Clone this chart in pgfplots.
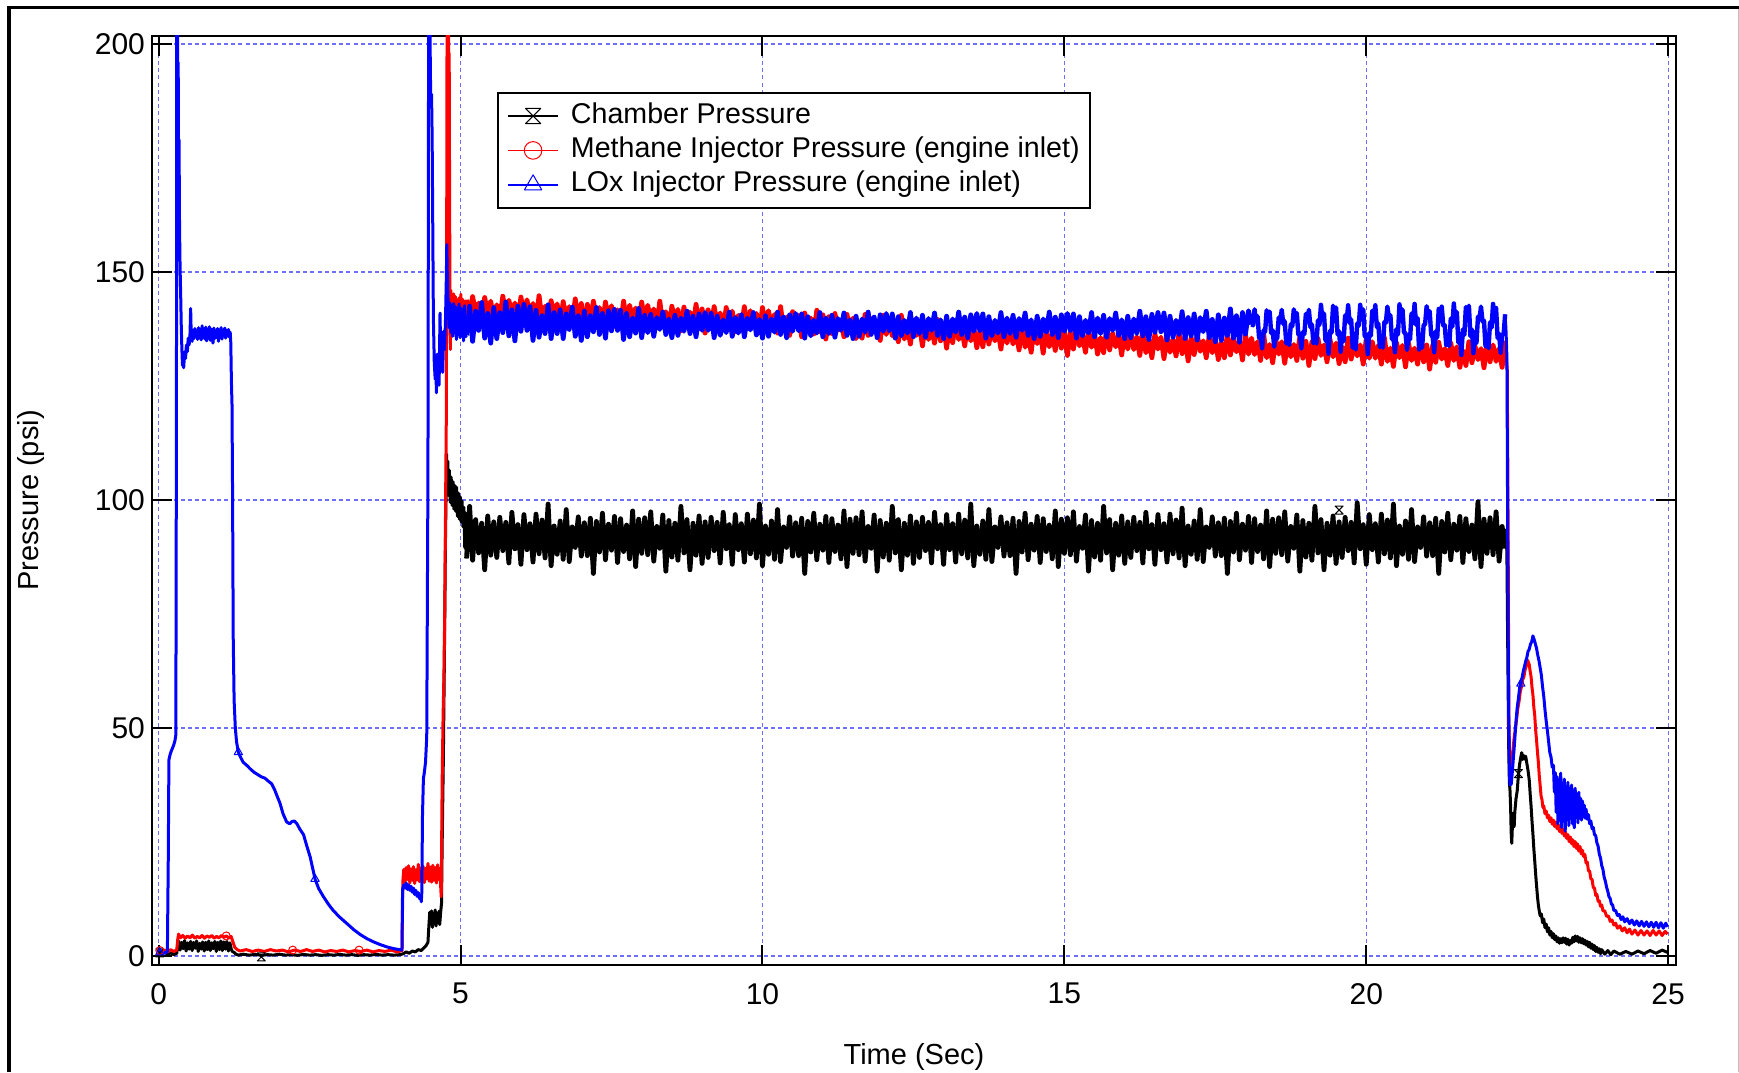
\documentclass[border=0pt]{standalone}
\usepackage{fontspec}
\setmainfont{Liberation Sans}
\usepackage{pgfplots}
\pgfplotsset{compat=1.18}
\usepackage{pgfplotstable}

\pgfdeclareplotmark{hourglass}{%
  \pgfpathmoveto{\pgfqpoint{-\pgfplotmarksize}{\pgfplotmarksize}}%
  \pgfpathlineto{\pgfqpoint{\pgfplotmarksize}{\pgfplotmarksize}}%
  \pgfpathlineto{\pgfqpoint{-\pgfplotmarksize}{-\pgfplotmarksize}}%
  \pgfpathlineto{\pgfqpoint{\pgfplotmarksize}{-\pgfplotmarksize}}%
  \pgfpathclose
  \pgfusepathqstroke}

\definecolor{gridblue}{RGB}{110,110,255}
\definecolor{pblue}{RGB}{0,0,255}
\definecolor{pred}{RGB}{255,0,0}

% steady-state part: time, chamber, methane, LOx
\pgfplotstableread{
t cp mp lp
5.10 87.2 143.9 136.1
5.15 98.6 140.2 142.5
5.20 86.8 144.6 134.8
5.25 95.7 140.9 141.4
5.30 88.4 143.2 137.2
5.35 94.9 139.5 143.3
5.40 84.7 144.4 135.5
5.45 96.5 140.6 140.9
5.50 87.9 143.6 134.4
5.55 95.2 139.1 142.2
5.60 87.4 142.8 135.4
5.65 96.2 139.5 141.1
5.70 88.9 144.7 136.7
5.75 95.1 140.1 143.4
5.80 86.2 143.8 136.0
5.85 97.3 140.8 141.7
5.90 89.3 143.2 134.9
5.95 94.6 139.0 142.5
6.00 85.9 144.5 137.0
6.05 96.8 140.3 142.9
6.10 89.1 143.9 137.2
6.15 94.8 140.3 142.4
6.20 86.4 143.1 135.0
6.25 96.9 139.0 141.6
6.30 88.2 144.8 135.7
6.35 95.6 139.6 140.4
6.40 87.3 142.5 136.5
6.45 99.1 138.5 142.8
6.50 85.6 143.7 135.4
6.55 94.3 140.4 141.1
6.60 88.1 143.0 136.5
6.65 95.4 138.3 141.7
6.70 87.0 143.5 135.4
6.75 97.9 139.7 140.8
6.80 86.5 142.4 137.4
6.85 94.1 138.9 142.3
6.90 89.6 144.1 135.9
6.95 96.3 139.4 140.4
7.00 87.7 143.1 135.0
7.05 95.0 137.8 141.4
7.10 87.8 142.9 135.8
7.15 96.0 139.2 140.4
7.20 83.9 143.6 136.9
7.25 95.3 139.9 142.2
7.30 88.6 142.2 136.3
7.35 97.1 138.5 140.9
7.40 86.9 143.4 135.5
7.45 94.7 139.6 141.5
7.50 89.0 142.6 137.1
7.55 96.4 138.1 141.8
7.60 86.3 141.7 137.2
7.65 95.9 138.4 141.6
7.70 88.7 143.6 135.2
7.75 94.5 139.0 140.9
7.80 87.1 142.7 135.8
7.85 97.6 139.7 139.9
7.90 85.4 142.1 136.6
7.95 95.8 137.9 142.0
8.00 88.3 143.4 135.6
8.05 96.1 139.2 140.5
8.10 88.0 142.7 136.7
8.15 97.4 139.1 140.7
8.20 86.6 141.9 135.9
8.25 94.2 137.8 140.0
8.30 89.4 143.6 137.4
8.35 96.7 138.4 141.2
8.40 84.4 141.3 136.3
8.45 95.5 137.3 139.7
8.50 87.5 142.5 135.6
8.55 94.9 139.2 140.5
8.60 86.8 141.8 136.1
8.65 98.6 137.1 139.9
8.70 88.4 142.3 137.0
8.75 95.7 138.5 141.4
8.80 84.7 141.2 136.5
8.85 94.9 137.7 140.3
8.90 87.9 142.9 135.8
8.95 96.5 138.2 140.8
9.00 86.1 141.9 137.2
9.05 95.2 136.6 141.1
9.10 87.4 141.7 137.2
9.15 96.2 138.0 140.9
9.20 88.9 142.4 135.6
9.25 95.1 138.7 140.3
9.30 86.2 141.0 136.1
9.35 97.3 137.3 139.5
9.40 89.3 142.2 136.7
9.45 94.6 138.4 141.2
9.50 85.9 141.4 135.9
9.55 96.8 136.9 140.0
9.60 89.1 140.5 136.6
9.65 94.8 137.2 140.6
9.70 86.4 142.4 135.8
9.75 96.9 137.8 139.9
9.80 88.2 141.5 137.3
9.85 95.6 138.5 141.1
9.90 87.3 140.9 136.2
9.95 99.1 136.7 139.6
10.00 85.6 142.2 135.5
10.05 94.3 138.0 140.4
10.10 88.1 141.5 135.9
10.15 95.4 137.9 139.7
10.20 87.0 140.7 136.8
10.25 97.9 136.6 141.2
10.30 86.5 142.4 136.3
10.35 94.1 137.2 140.1
10.40 89.6 140.1 135.6
10.45 96.3 136.1 140.6
10.50 87.7 141.3 137.0
10.55 95.0 138.0 140.9
10.60 87.8 140.5 137.1
10.65 96.0 135.8 140.8
10.70 83.9 141.0 135.5
10.75 95.3 137.2 140.2
10.80 88.6 139.9 136.0
10.85 97.1 136.4 139.4
10.90 86.9 141.6 136.6
10.95 94.7 136.9 141.1
11.00 89.0 140.6 135.8
11.05 96.4 135.3 139.9
11.10 86.3 140.2 136.5
11.15 95.9 136.5 140.5
11.20 88.7 140.9 135.7
11.25 94.5 137.2 139.8
11.30 87.1 139.5 137.2
11.35 97.6 135.8 141.0
11.40 85.4 140.7 136.1
11.45 95.8 136.9 139.5
11.50 88.3 139.9 135.4
11.55 96.1 135.4 140.3
11.60 88.0 138.8 135.9
11.65 97.4 135.5 139.7
11.70 86.6 140.7 136.8
11.75 94.2 136.1 141.2
11.80 89.4 139.8 136.3
11.85 96.7 136.8 140.1
11.90 84.4 139.2 135.6
11.95 95.5 135.0 140.6
12.00 87.5 140.5 137.0
12.05 94.9 136.3 140.9
12.10 86.8 139.6 137.1
12.15 98.6 136.0 140.8
12.20 88.4 138.8 135.5
12.25 95.7 134.7 140.2
12.30 84.7 140.5 136.0
12.35 94.9 135.3 139.4
12.40 87.9 138.2 136.6
12.45 96.5 134.2 141.1
12.50 86.1 139.4 135.8
12.55 95.2 136.1 139.9
12.60 87.4 138.5 136.5
12.65 96.2 133.8 140.5
12.70 88.9 139.0 135.7
12.75 95.1 135.2 139.8
12.80 86.2 137.9 137.2
12.85 97.3 134.4 141.0
12.90 89.3 139.6 136.1
12.95 94.6 134.9 139.5
13.00 85.9 138.6 135.4
13.05 96.8 133.3 140.3
13.10 89.1 138.2 135.9
13.15 94.8 134.5 139.7
13.20 86.4 138.9 136.8
13.25 96.9 135.2 141.2
13.30 88.2 137.5 136.3
13.35 95.6 133.8 140.1
13.40 87.3 138.7 135.6
13.45 99.1 134.9 140.6
13.50 85.6 137.9 137.0
13.55 94.3 133.4 140.9
13.60 88.1 136.9 137.1
13.65 95.4 133.6 140.8
13.70 87.0 138.8 135.5
13.75 97.9 134.2 140.2
13.80 86.5 137.9 136.0
13.85 94.1 134.9 139.4
13.90 89.6 137.3 136.6
13.95 96.3 133.1 141.1
14.00 87.7 138.6 135.8
14.05 95.0 134.4 139.9
14.10 87.8 137.8 136.5
14.15 96.0 134.2 140.5
14.20 83.9 137.0 135.7
14.25 95.3 132.9 139.8
14.30 88.6 138.7 137.2
14.35 97.1 133.5 141.0
14.40 86.9 136.4 136.1
14.45 94.7 132.4 139.5
14.50 89.0 137.6 135.4
14.55 96.4 134.3 140.3
14.60 86.3 136.9 135.9
14.65 95.9 132.2 139.7
14.70 88.7 137.4 136.8
14.75 94.5 133.6 141.2
14.80 87.1 136.3 136.3
14.85 97.6 132.8 140.1
14.90 85.4 138.0 135.6
14.95 95.8 133.3 140.6
15.00 88.3 137.0 137.0
15.05 96.1 131.7 140.9
15.10 88.0 136.8 137.1
15.15 97.4 133.1 140.8
15.20 86.6 137.5 135.5
15.25 94.2 133.8 140.2
15.30 89.4 136.1 136.0
15.35 96.7 132.4 139.4
15.40 84.4 137.3 136.6
15.45 95.5 133.5 141.1
15.50 87.5 136.5 135.8
15.55 94.9 132.0 139.9
15.60 86.8 135.6 136.5
15.65 98.6 132.3 140.5
15.70 88.4 137.5 135.7
15.75 95.7 132.9 139.8
15.80 84.7 136.6 137.2
15.85 94.9 133.6 141.0
15.90 87.9 136.0 136.1
15.95 96.5 131.8 139.5
16.00 86.1 137.3 135.4
16.05 95.2 133.1 140.3
16.10 87.4 136.6 135.6
16.15 96.2 133.0 139.7
16.20 88.9 135.8 136.5
16.25 95.1 131.7 141.4
16.30 86.2 137.5 136.0
16.35 97.3 132.3 140.2
16.40 89.3 135.2 135.2
16.45 94.6 131.2 140.7
16.50 85.9 136.4 136.8
16.55 96.8 133.1 141.1
16.60 89.1 135.7 136.9
16.65 94.8 131.0 141.0
16.70 86.4 136.2 135.1
16.75 96.9 132.4 140.3
16.80 88.2 135.1 135.7
16.85 95.6 131.6 139.4
16.90 87.3 136.8 136.3
16.95 98.2 132.1 141.3
17.00 85.6 135.8 135.4
17.05 94.3 130.5 140.0
17.10 88.1 135.6 136.0
17.15 95.4 131.9 140.8
17.20 87.0 136.3 135.1
17.25 97.9 132.6 140.0
17.30 86.5 134.9 136.9
17.35 94.1 131.2 141.4
17.40 89.6 136.1 135.6
17.45 96.3 132.3 139.6
17.50 87.7 135.3 134.7
17.55 95.0 130.8 140.6
17.60 87.8 134.5 135.0
17.65 96.0 131.2 139.9
17.70 83.9 136.4 136.1
17.75 95.3 131.8 141.9
17.80 88.6 135.5 135.5
17.85 97.1 132.5 140.4
17.90 86.9 134.9 134.6
17.95 94.7 130.7 141.1
18.00 89.0 136.2 136.4
18.05 96.4 132.0 141.5
18.10 86.3 135.5 138.5
18.15 95.9 131.9 141.8
18.20 88.7 134.7 138.4
18.25 94.5 130.6 134.6
18.30 87.1 136.4 136.8
18.35 97.6 131.2 141.0
18.40 85.4 134.1 140.1
18.45 95.8 130.1 135.7
18.50 88.3 135.3 135.2
18.55 96.1 132.0 139.5
18.60 88.0 134.7 142.5
18.65 97.4 130.0 137.4
18.70 86.6 135.2 134.2
18.75 94.2 131.4 136.2
18.80 89.4 134.1 142.1
18.85 96.7 130.6 139.6
18.90 84.4 135.8 135.3
18.95 95.5 131.1 134.4
19.00 87.5 134.8 140.6
19.05 94.9 129.5 141.2
19.10 86.8 134.7 135.9
19.15 98.6 131.0 133.0
19.20 88.4 135.4 138.4
19.25 95.7 131.7 142.7
19.30 84.7 134.0 138.3
19.35 94.9 130.3 133.4
19.40 87.9 135.2 136.2
19.45 96.5 131.4 141.7
19.50 86.1 134.4 140.5
19.55 95.2 129.9 134.9
19.60 87.4 133.6 134.2
19.65 96.2 130.3 139.7
19.70 88.9 135.5 142.8
19.75 95.1 130.9 137.1
19.80 86.2 134.6 133.6
19.85 99.4 131.6 135.8
19.90 89.3 134.0 142.4
19.95 94.6 129.8 139.6
20.00 85.9 135.3 134.8
20.05 96.8 131.1 133.8
20.10 89.1 134.7 140.7
20.15 94.8 131.1 141.4
20.20 86.4 133.9 135.9
20.25 96.9 129.8 133.0
20.30 88.2 135.6 138.4
20.35 95.6 130.4 142.7
20.40 87.3 133.3 138.3
20.45 99.1 129.3 133.4
20.50 85.6 134.5 136.2
20.55 94.3 131.2 141.7
20.60 88.1 133.9 140.5
20.65 95.4 129.2 134.9
20.70 87.0 134.4 134.2
20.75 97.9 130.6 139.7
20.80 86.5 133.3 142.8
20.85 94.1 129.8 137.1
20.90 89.6 135.0 133.6
20.95 96.3 130.3 135.8
21.00 87.7 134.0 142.4
21.05 95.0 128.7 139.6
21.10 87.8 133.9 134.8
21.15 96.0 130.2 133.8
21.20 83.9 134.6 140.7
21.25 95.3 130.9 141.4
21.30 88.6 133.2 135.9
21.35 97.1 129.5 133.0
21.40 86.9 134.4 138.4
21.45 94.7 130.6 142.7
21.50 89.0 133.6 138.3
21.55 96.4 129.1 133.4
21.60 86.3 132.8 136.2
21.65 95.9 129.5 141.7
21.70 88.7 134.7 140.5
21.75 94.5 130.1 134.9
21.80 87.1 133.8 134.2
21.85 99.6 130.8 139.7
21.90 85.4 133.2 142.8
21.95 95.8 129.0 137.1
22.00 88.3 134.5 133.6
22.05 96.1 130.3 135.8
22.10 88.0 134.0 142.4
22.15 97.4 130.4 139.6
22.20 86.6 133.2 134.8
22.25 94.2 129.1 133.8
22.30 89.4 134.9 140.7
}\steady

\begin{document}
\begin{tikzpicture}
\useasboundingbox (0pt,0pt) rectangle (869.5pt,536pt);
\begin{axis}[
  at={(76pt,53.5pt)}, anchor=south west,
  scale only axis, width=762pt, height=464.5pt,
  xmin=-0.11, xmax=25.13, ymin=-1.97, ymax=201.75,
  xtick={0,5,10,15,20,25}, ytick={0,50,100,150,200},
  grid=major,
  major grid style={gridblue, line width=0.6pt, dash pattern=on 2pt off 1.6pt},
  axis line style={line width=1pt, black},
  major tick length=10pt,
  tick style={line width=1pt, black},
  tick align=inside,
  tick label style={font=\fontsize{15}{17}\selectfont},
  xticklabel style={yshift=-5.5pt},
  label style={font=\fontsize{14.5}{17}\selectfont},
  /pgf/number format/assume math mode=true,
  xlabel={Time (Sec)}, ylabel={Pressure (psi)},
  xlabel style={at={(axis description cs:0.5,-0.099)}, anchor=center},
  ylabel style={at={(axis description cs:-0.0795,0.5)}, anchor=center},
  legend style={at={(0.2265,0.9397)}, anchor=north west, draw=black,
    line width=1pt, fill=white, inner xsep=4.5pt, inner ysep=4pt,
    row sep=2.2pt, column sep=5.5pt,
    nodes={inner sep=0.5pt, text height=10.5pt, text depth=3.5pt},
    cells={anchor=west}, font=\fontsize{14.3}{17}\selectfont},
  legend image code/.code={\draw[mark repeat=2, mark phase=2, #1] plot coordinates {(0pt,0pt) (12.5pt,0pt) (25pt,0pt)};},
  every axis plot/.append style={line width=1.5pt, line join=round},
]
\addlegendimage{black, line width=0.9pt, mark=hourglass, mark size=3.8pt, mark options={line width=0.5pt, solid}}
\addlegendentry{Chamber Pressure}
\addlegendimage{pred, line width=0.9pt, mark=o, mark size=4.4pt, mark options={line width=0.5pt, solid}}
\addlegendentry{Methane Injector Pressure (engine inlet)}
\addlegendimage{pblue, line width=0.9pt, mark=triangle, mark size=5pt, mark options={line width=0.5pt, solid}}
\addlegendentry{LOx Injector Pressure (engine inlet)}

% ---------- Chamber pressure ----------
\addplot[black, forget plot] coordinates {(0.00,0.6)(0.05,0.3)(0.10,0.9)(0.15,0.4)(0.20,0.7)(0.25,0.3)(0.30,0.6)(0.315,2.4)(0.33,3.3)(0.355,1.3)(0.38,3.0)(0.405,1.6)(0.43,3.4)(0.455,1.1)(0.48,2.9)(0.505,1.5)(0.53,3.2)(0.555,1.2)(0.58,3.0)(0.605,1.7)(0.63,3.3)(0.655,1.0)(0.68,2.8)(0.705,1.5)(0.73,3.1)(0.755,1.1)(0.78,3.0)(0.805,1.4)(0.83,3.3)(0.855,1.2)(0.88,2.9)(0.905,1.6)(0.93,3.2)(0.955,1.0)(0.98,3.0)(1.005,1.4)(1.03,3.3)(1.055,1.2)(1.08,3.1)(1.105,1.5)(1.13,3.2)(1.155,1.1)(1.18,2.9)(1.205,1.4)(1.22,1.0)(1.25,0.8)(1.28,0.4)(1.32,0.2)(1.40,0.4)(1.50,0.2)(1.60,0.35)(1.70,0.15)(1.80,0.3)(1.90,0.2)(2.00,0.4)(2.10,0.2)(2.20,0.3)(2.30,0.15)(2.40,0.35)(2.50,0.2)(2.60,0.3)(2.70,0.15)(2.80,0.3)(2.90,0.2)(3.00,0.35)(3.10,0.2)(3.20,0.3)(3.30,0.15)(3.40,0.3)(3.50,0.2)(3.60,0.35)(3.70,0.2)(3.80,0.3)(3.90,0.2)(4.00,0.3)(4.05,0.5)(4.10,0.9)(4.15,0.6)(4.20,1.1)(4.25,0.9)(4.30,1.4)(4.35,1.2)(4.40,1.9)(4.43,2.3)(4.46,3.0)(4.475,6.5)(4.49,9.6)(4.505,7.0)(4.52,9.9)(4.535,6.3)(4.55,9.3)(4.565,7.1)(4.58,10.1)(4.595,6.6)(4.61,9.0)(4.625,7.4)(4.64,9.8)(4.655,6.9)(4.67,9.5)(4.685,11.6)(4.695,24)(4.715,43)(4.73,62)(4.75,91)(4.77,110)(4.78,102)(4.79,108.5)(4.80,101)(4.815,106.5)(4.83,99.5)(4.845,105)(4.86,98.8)(4.875,104)(4.89,98)(4.905,103.2)(4.92,97.5)(4.935,102.8)(4.95,96.4)(4.965,101.5)(4.98,95.8)(4.995,100.7)(5.01,95.2)(5.025,99.8)(5.04,94.1)(5.055,98.4)(5.07,89.5)(5.085,97.2)(5.10,87.2)};
\addplot[black, line width=2.4pt, forget plot] table[x=t, y=cp] {\steady};
\addplot[black, forget plot] coordinates {(22.30,89.4)(22.32,93.5)(22.33,87.0)(22.34,72)(22.35,58)(22.36,45)(22.37,38)(22.38,36.5)(22.39,33)(22.40,27)(22.41,24.7)(22.42,28.5)(22.43,31.3)(22.44,29.5)(22.45,28.4)(22.46,31.5)(22.48,34.5)(22.50,36.2)(22.52,39.8)(22.54,42.1)(22.56,43.6)(22.575,44.6)(22.59,43.1)(22.605,44.0)(22.62,43.2)(22.64,43.8)(22.66,42.2)(22.68,40.6)(22.70,38.5)(22.715,35.5)(22.73,32.8)(22.745,29.6)(22.76,26.8)(22.775,23.6)(22.79,20.9)(22.805,18.0)(22.82,15.5)(22.835,13.1)(22.85,11.2)(22.865,9.9)(22.88,8.8)(22.90,9.2)(22.92,7.3)(22.94,8.1)(22.96,6.2)(22.98,7.0)(23.00,5.3)(23.02,6.2)(23.04,4.6)(23.06,5.4)(23.08,4.0)(23.10,4.9)(23.12,3.6)(23.14,4.4)(23.16,3.1)(23.18,4.0)(23.20,2.8)(23.22,3.8)(23.24,2.9)(23.26,4.0)(23.28,3.0)(23.30,3.9)(23.32,2.6)(23.34,3.7)(23.36,2.4)(23.38,3.4)(23.40,2.8)(23.42,4.1)(23.44,3.1)(23.46,4.4)(23.48,3.3)(23.50,4.3)(23.52,3.0)(23.54,4.0)(23.56,2.9)(23.58,3.8)(23.60,2.7)(23.62,3.5)(23.64,2.4)(23.66,3.2)(23.68,2.0)(23.70,3.0)(23.72,1.7)(23.74,2.6)(23.76,1.4)(23.78,2.3)(23.80,1.0)(23.82,1.9)(23.84,0.8)(23.86,1.6)(23.88,0.5)(23.90,1.4)(23.95,0.4)(24.00,1.2)(24.05,0.3)(24.10,1.1)(24.20,0.4)(24.30,1.0)(24.40,0.4)(24.50,1.1)(24.60,0.5)(24.70,1.2)(24.80,0.6)(24.90,1.3)(24.99,0.8)};

% ---------- Methane injector ----------
\addplot[pred, forget plot] coordinates {(0.00,1.2)(0.05,0.8)(0.10,1.3)(0.15,0.9)(0.20,1.4)(0.25,1.0)(0.30,1.3)(0.315,3.5)(0.33,4.8)(0.36,4.0)(0.40,4.5)(0.44,3.9)(0.48,4.4)(0.52,4.0)(0.56,4.6)(0.60,3.9)(0.64,4.3)(0.68,4.0)(0.72,4.5)(0.76,3.9)(0.80,4.4)(0.84,4.1)(0.88,4.5)(0.92,3.9)(0.96,4.3)(1.00,4.0)(1.04,4.5)(1.08,4.1)(1.12,4.4)(1.16,4.0)(1.20,4.3)(1.23,3.1)(1.26,1.9)(1.30,1.4)(1.35,1.1)(1.45,1.4)(1.55,1.0)(1.65,1.3)(1.75,1.0)(1.85,1.4)(1.95,1.1)(2.05,1.3)(2.15,0.9)(2.25,1.3)(2.35,1.0)(2.45,1.4)(2.55,1.0)(2.65,1.3)(2.75,0.9)(2.85,1.2)(2.95,1.0)(3.05,1.3)(3.15,0.9)(3.25,1.2)(3.35,1.0)(3.45,1.3)(3.55,0.9)(3.65,1.2)(3.75,1.0)(3.85,1.3)(3.95,0.9)(4.03,1.2)(4.045,16.5)(4.06,19.0)(4.08,16.2)(4.10,19.4)(4.12,16.8)(4.14,19.8)(4.16,16.0)(4.18,19.1)(4.20,16.6)(4.22,19.6)(4.24,15.9)(4.26,18.9)(4.28,16.7)(4.30,20.1)(4.32,16.3)(4.34,19.3)(4.36,16.5)(4.38,19.7)(4.40,16.1)(4.42,19.2)(4.44,16.9)(4.46,20.3)(4.48,16.4)(4.50,19.5)(4.52,16.2)(4.54,19.9)(4.56,16.6)(4.58,19.4)(4.60,16.0)(4.62,20.0)(4.64,16.8)(4.66,19.2)(4.67,15.5)(4.68,13.0)(4.695,38)(4.71,52)(4.725,62)(4.74,77)(4.755,104)(4.765,119)(4.772,170)(4.778,215)(4.79,208)(4.80,215)(4.806,192)(4.812,198)(4.818,170)(4.824,148)(4.83,133)(4.838,146)(4.846,137)(4.855,144.5)(4.87,140)(4.885,145.2)(4.90,139.3)(4.915,144.6)(4.93,139.8)(4.945,143.9)(4.96,138.6)(4.975,144.3)(4.99,139.5)(5.005,145.1)(5.02,140.2)(5.035,144.0)(5.05,139.6)(5.065,143.5)(5.08,140.4)(5.10,143.9)};
\addplot[pred, line width=2.4pt, forget plot] table[x=t, y=mp] {\steady};
\addplot[pred, forget plot] coordinates {(22.30,134.9)(22.32,131.5)(22.335,128.5)(22.345,105)(22.355,75)(22.362,52)(22.37,46)(22.378,40)(22.39,41.5)(22.41,43.5)(22.43,45.2)(22.45,48)(22.47,49.8)(22.49,51.9)(22.51,54.3)(22.53,55.8)(22.55,57.9)(22.57,59.0)(22.59,60.6)(22.61,61.2)(22.63,62.7)(22.65,63.6)(22.67,64.9)(22.685,64.4)(22.70,63.8)(22.715,62.4)(22.73,61.2)(22.745,58.9)(22.76,57.3)(22.775,54.6)(22.79,52.8)(22.805,49.6)(22.82,47.4)(22.835,44.8)(22.85,42.5)(22.865,39.6)(22.88,37.4)(22.895,35.1)(22.91,34.3)(22.925,32.6)(22.94,32.9)(22.96,31.2)(22.98,31.8)(23.00,30.3)(23.02,30.9)(23.04,29.5)(23.06,30.3)(23.08,28.9)(23.10,29.8)(23.12,28.4)(23.14,29.4)(23.16,27.9)(23.18,28.8)(23.20,27.3)(23.22,28.4)(23.24,26.9)(23.26,27.8)(23.28,26.3)(23.30,27.2)(23.32,25.8)(23.34,26.6)(23.36,25.1)(23.38,26.1)(23.40,24.6)(23.42,25.5)(23.44,24.0)(23.46,25.1)(23.48,23.6)(23.50,24.6)(23.52,23.0)(23.54,24.0)(23.56,22.4)(23.58,23.2)(23.60,21.8)(23.62,22.3)(23.64,20.4)(23.66,20.6)(23.68,18.7)(23.70,18.6)(23.72,16.9)(23.74,16.8)(23.76,15.0)(23.78,14.9)(23.80,13.3)(23.82,13.5)(23.84,12.0)(23.86,12.1)(23.88,10.9)(23.90,11.2)(23.92,9.9)(23.95,9.9)(23.98,8.7)(24.01,8.8)(24.04,7.6)(24.07,7.9)(24.10,6.8)(24.13,7.2)(24.16,6.1)(24.20,6.6)(24.24,5.5)(24.28,6.2)(24.32,5.1)(24.36,5.9)(24.40,4.8)(24.45,5.7)(24.50,4.6)(24.55,5.6)(24.60,4.6)(24.65,5.5)(24.70,4.5)(24.75,5.6)(24.80,4.6)(24.85,5.5)(24.90,4.5)(24.95,5.4)(24.99,4.8)};

% ---------- LOx injector ----------
\addplot[pblue, forget plot] coordinates {(0.00,0.8)(0.05,1.2)(0.10,0.6)(0.145,1.0)(0.16,22)(0.17,43)(0.19,44.2)(0.21,45.0)(0.23,45.6)(0.25,46.3)(0.27,47.2)(0.285,48.5)(0.295,120)(0.30,212)(0.312,212)(0.318,182)(0.324,196)(0.33,168)(0.338,179)(0.346,160)(0.355,151)(0.365,145)(0.375,138)(0.385,133)(0.395,129.5)(0.405,131)(0.415,129)(0.43,132.5)(0.445,131)(0.46,134)(0.475,132.5)(0.49,135.5)(0.505,134)(0.52,136.5)(0.53,142)(0.54,136)(0.555,134.8)(0.57,137.2)(0.585,135.4)(0.60,137.6)(0.615,135.8)(0.63,137.1)(0.645,135.2)(0.66,137.8)(0.675,135.6)(0.69,136.9)(0.705,135.1)(0.72,138.2)(0.735,135.7)(0.75,137.4)(0.765,135.3)(0.78,137.9)(0.795,134.9)(0.81,137.2)(0.825,135.8)(0.84,138.0)(0.855,135.0)(0.87,137.5)(0.885,136.0)(0.90,134.4)(0.915,137.7)(0.93,135.4)(0.945,137.1)(0.96,135.9)(0.975,137.6)(0.99,134.8)(1.005,137.3)(1.02,135.6)(1.035,137.8)(1.05,135.3)(1.065,137.0)(1.08,136.1)(1.095,137.7)(1.11,135.5)(1.125,137.2)(1.14,136.0)(1.155,137.4)(1.17,135.7)(1.185,136.8)(1.195,134.5)(1.205,126)(1.215,121)(1.225,100)(1.235,70)(1.25,56)(1.27,50)(1.29,47)(1.32,44.7)(1.36,43.5)(1.40,42.5)(1.46,41.8)(1.52,41.0)(1.58,40.3)(1.64,39.8)(1.70,39.3)(1.76,39.0)(1.82,38.3)(1.87,37.8)(1.92,36.5)(1.97,34.8)(2.01,33.5)(2.06,31.2)(2.12,29.4)(2.17,29.0)(2.21,29.5)(2.25,29.6)(2.29,29.0)(2.34,27.8)(2.40,26.6)(2.45,24.3)(2.51,21.7)(2.55,19.3)(2.59,16.9)(2.65,14.8)(2.73,13.0)(2.81,11.4)(2.89,10.0)(3.00,8.5)(3.12,7.1)(3.23,5.8)(3.34,4.7)(3.45,3.8)(3.56,3.1)(3.67,2.5)(3.78,2.0)(3.90,1.6)(4.03,1.3)(4.04,14.6)(4.06,15.6)(4.08,14.9)(4.10,16.0)(4.12,14.6)(4.14,15.6)(4.16,14.4)(4.18,15.3)(4.20,14.0)(4.22,14.9)(4.24,13.5)(4.26,14.4)(4.28,13.1)(4.30,13.9)(4.32,12.6)(4.34,13.2)(4.35,11.9)(4.358,13.8)(4.37,31)(4.385,39)(4.40,40.2)(4.42,42.5)(4.44,48)(4.46,105)(4.472,212)(4.49,212)(4.50,194)(4.51,186)(4.52,189)(4.53,179)(4.54,160)(4.55,140)(4.565,130)(4.58,126.5)(4.59,131)(4.60,123.5)(4.615,132)(4.63,126.6)(4.645,125.2)(4.66,141)(4.675,129.5)(4.69,135.3)(4.705,128)(4.72,137)(4.735,133)(4.75,139)(4.765,149)(4.772,156)(4.78,150)(4.79,145)(4.80,142.2)(4.81,137.8)(4.825,143.2)(4.84,136.8)(4.855,142.6)(4.87,135.9)(4.885,143.1)(4.90,137.0)(4.915,142.4)(4.93,135.2)(4.945,141.9)(4.96,136.3)(4.975,143.0)(4.99,135.6)(5.005,142.1)(5.02,136.0)(5.035,141.8)(5.05,134.9)(5.065,142.6)(5.08,135.8)(5.10,136.1)};
\addplot[pblue, line width=2.4pt, forget plot, restrict x to domain=5:18.11] table[x=t, y=lp] {\steady};
% LOx, 18.1-22.3 s: oscillating part, finer sampling
\addplot[pblue, line width=2.2pt, forget plot] coordinates {(18.100,138.5)(18.125,138.3)(18.150,141.8)(18.175,139.2)(18.200,140.3)(18.225,135.5)(18.250,136.4)(18.275,133.2)(18.300,137.2)(18.325,136.9)(18.350,141.6)(18.375,139.9)(18.400,141.3)(18.425,136.6)(18.450,137.2)(18.475,133.6)(18.500,136.7)(18.525,135.4)(18.550,140.0)(18.575,138.9)(18.600,141.7)(18.625,138.6)(18.650,139.2)(18.675,134.3)(18.700,135.8)(18.725,134.0)(18.750,138.5)(18.775,138.1)(18.800,141.8)(18.825,139.3)(18.850,141.0)(18.875,136.3)(18.900,136.4)(18.925,133.2)(18.950,136.8)(18.975,136.4)(19.000,140.8)(19.025,139.2)(19.050,141.7)(19.075,137.9)(19.100,138.5)(19.125,134.4)(19.150,136.0)(19.175,134.3)
(19.200,139.4)(19.225,138.4)(19.250,142.8)(19.275,139.5)(19.300,140.9)(19.325,134.9)(19.350,136.0)(19.375,132.1)(19.400,137.1)(19.425,136.7)(19.450,142.6)(19.475,140.4)(19.500,142.2)(19.525,136.3)(19.550,137.0)(19.575,132.5)(19.600,136.4)(19.625,134.8)(19.650,140.5)(19.675,139.2)(19.700,142.7)(19.725,138.8)(19.750,139.6)(19.775,133.4)(19.800,135.3)(19.825,133.0)(19.850,138.7)(19.875,138.2)(19.900,142.8)(19.925,139.7)(19.950,141.8)(19.975,135.9)(20.000,136.1)(20.025,132.0)(20.050,136.6)(20.075,136.0)(20.100,141.5)(20.125,139.6)(20.150,142.7)(20.175,137.9)(20.200,138.7)(20.225,133.5)(20.250,135.6)(20.275,133.4)
(20.300,139.0)(20.325,138.9)(20.350,142.4)(20.375,139.9)(20.400,140.5)(20.425,135.3)(20.450,135.7)(20.475,132.4)(20.500,137.5)(20.525,136.3)(20.550,142.9)(20.575,140.0)(20.600,141.8)(20.625,136.7)(20.650,136.6)(20.675,132.9)(20.700,136.0)(20.725,135.2)(20.750,140.9)(20.775,138.8)(20.800,143.0)(20.825,138.4)(20.850,139.9)(20.875,133.0)(20.900,135.7)(20.925,133.4)(20.950,138.3)(20.975,138.6)(21.000,142.5)(21.025,140.1)(21.050,141.4)(21.075,136.3)(21.100,135.7)(21.125,132.4)(21.150,137.0)(21.175,135.6)(21.200,141.9)(21.225,139.2)(21.250,142.4)(21.275,138.3)(21.300,138.3)(21.325,133.9)(21.350,135.2)(21.375,133.8)
(21.400,139.8)(21.425,138.0)(21.450,143.1)(21.475,139.1)(21.500,141.2)(21.525,134.5)(21.550,136.4)(21.575,131.8)(21.600,137.4)(21.625,136.2)(21.650,142.3)(21.675,140.8)(21.700,142.6)(21.725,135.9)(21.750,137.4)(21.775,132.2)(21.800,136.8)(21.825,134.4)(21.850,140.2)(21.875,139.6)(21.900,142.4)(21.925,139.2)(21.950,139.3)(21.975,133.7)(22.000,134.9)(22.025,133.3)(22.050,139.0)(22.075,137.8)(22.100,143.0)(22.125,139.3)(22.150,142.1)(22.175,135.5)(22.200,136.5)(22.225,132.3)(22.250,136.2)(22.275,136.4)(22.300,140.7)};
\addplot[pblue, forget plot] coordinates {(22.30,140.7)(22.315,137)(22.33,131)(22.34,100)(22.35,72)(22.36,52)(22.37,42)(22.378,37.5)(22.39,38.5)(22.40,37.6)(22.42,40.5)(22.44,44)(22.46,47.5)(22.48,51.5)(22.50,54.5)(22.52,56.5)(22.54,58.8)(22.56,60.2)(22.58,61.0)(22.60,62.4)(22.62,63.5)(22.64,64.6)(22.66,65.5)(22.68,66.8)(22.70,67.3)(22.72,68.4)(22.74,68.9)(22.76,70.2)(22.775,69.6)(22.79,69.0)(22.805,68.2)(22.82,67.5)(22.84,66.0)(22.86,64.8)(22.88,63.2)(22.90,61.6)(22.92,59.0)(22.94,56.9)(22.96,54.0)(22.98,51.5)(23.00,49.4)(23.02,47.0)(23.04,44.6)(23.06,43.6)(23.08,41.4)(23.10,41.8)(23.115,36.0)(23.13,40.2)(23.145,31.5)(23.16,39.3)(23.175,29.0)(23.19,38.6)(23.205,30.8)(23.22,40.1)(23.235,28.2)(23.25,37.9)(23.265,29.6)(23.28,38.8)(23.295,27.4)(23.31,37.2)(23.325,29.9)(23.34,38.1)(23.355,28.6)(23.37,36.4)(23.385,30.2)(23.40,37.5)(23.415,29.0)(23.43,36.2)(23.445,28.1)(23.46,36.8)(23.475,30.4)(23.49,35.5)(23.505,29.2)(23.52,35.9)(23.535,30.7)(23.55,34.6)(23.565,29.8)(23.58,34.0)(23.595,30.6)(23.61,33.1)(23.625,30.2)(23.64,32.2)(23.66,30.0)(23.68,31.0)(23.70,29.0)(23.72,29.6)(23.74,27.9)(23.76,28.2)(23.78,26.6)(23.80,26.4)(23.82,24.8)(23.84,24.1)(23.86,22.3)(23.88,21.5)(23.90,19.8)(23.92,19.0)(23.94,17.3)(23.96,16.4)(23.98,15.1)(24.00,14.2)(24.02,13.0)(24.04,12.6)(24.06,11.4)(24.08,11.2)(24.10,10.0)(24.13,10.0)(24.16,8.9)(24.19,9.1)(24.22,8.0)(24.25,8.6)(24.28,7.5)(24.32,8.2)(24.36,7.1)(24.40,7.9)(24.44,6.8)(24.48,7.7)(24.52,6.6)(24.56,7.6)(24.60,6.5)(24.64,7.5)(24.68,6.4)(24.72,7.4)(24.76,6.3)(24.80,7.4)(24.84,6.2)(24.88,7.3)(24.92,6.1)(24.96,7.2)(24.99,6.4)};

% ---------- sparse series markers ----------
\addplot[only marks, black, mark=hourglass, mark size=2pt, mark options={line width=0.5pt}, forget plot] coordinates {(0.02,0.7)(1.70,-0.2)(19.55,97.8)(22.52,40.0)};
\addplot[only marks, pred, mark=o, mark size=2pt, mark options={line width=0.5pt}, forget plot] coordinates {(0.02,1.2)(1.12,4.4)(2.22,1.3)(3.32,1.3)};
\addplot[only marks, pblue, mark=triangle, mark size=2.4pt, mark options={line width=0.5pt}, forget plot] coordinates {(0.02,0.8)(1.32,44.7)(2.59,16.9)(22.56,59.7)};
\end{axis}
% outer frame of the original figure
\draw[line width=1.8pt, black] (4.5pt,0pt) -- (4.5pt,532.25pt) -- (869.5pt,532.25pt);
\draw[line width=0.6pt, black!25] (869.2pt,0pt) -- (869.2pt,531.3pt);
\end{tikzpicture}
\end{document}
